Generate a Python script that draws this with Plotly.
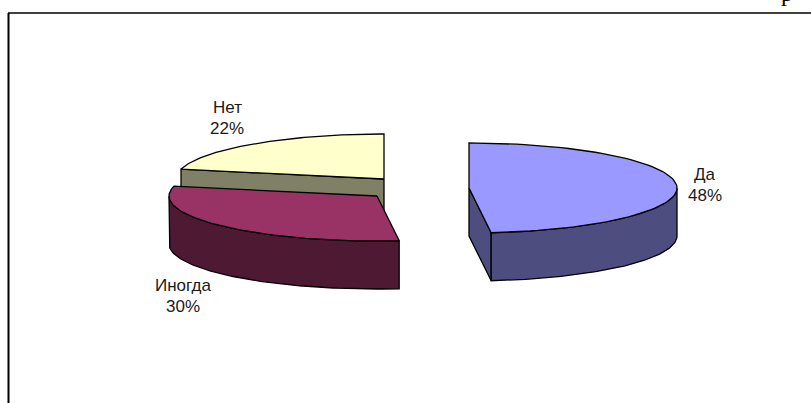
import numpy as np
import plotly.graph_objects as go

categories = ["Да", "Иногда", "Нет"]
values = [48.3, 30.2, 21.5]
top_colors = ["#9999ff", "#993366", "#ffffcc"]
side_colors = ["#4d4d80", "#4d1933", "#808066"]

W, H = 811, 403
A, B, DEPTH = 208, 45, 48
CENTERS = {"Да": (469, 188), "Иногда": (377, 196), "Нет": (384, 179)}
LABELS = {"Да": (705, 174), "Иногда": (183, 285), "Нет": (227, 107)}
FONT = dict(family="Liberation Sans", size=17, color="#1a1a1a")

total = sum(values)
starts = np.cumsum([0] + values[:-1]) / total * 2 * np.pi
ends = np.cumsum(values) / total * 2 * np.pi
span = {c: (s, e) for c, s, e in zip(categories, starts, ends)}
top_c = dict(zip(categories, top_colors))
side_c = dict(zip(categories, side_colors))


def arc(c, t0, t1, dy=0):
    cx, cy = CENTERS[c]
    t = np.linspace(t0, t1, 80)
    return cx + A * np.sin(t), cy - B * np.cos(t) + dy


fig = go.Figure()


def poly(xs, ys, color):
    fig.add_trace(go.Scatter(
        x=list(xs) + [xs[0]], y=list(ys) + [ys[0]], mode="lines", fill="toself",
        fillcolor=color, line=dict(color="black", width=1.3), hoverinfo="skip",
        showlegend=False))


def top(c):
    x, y = arc(c, *span[c])
    cx, cy = CENTERS[c]
    poly(np.r_[cx, x], np.r_[cy, y], top_c[c])


def wall(c, t0, t1):
    x, y = arc(c, t0, t1)
    x2, y2 = arc(c, t1, t0, DEPTH)
    poly(np.r_[x, x2], np.r_[y, y2], side_c[c])


def cut(c, t):
    cx, cy = CENTERS[c]
    x, y = arc(c, t, t)
    x, y = x[0], y[0]
    poly([cx, x, x, cx], [cy, y, y + DEPTH, cy + DEPTH], side_c[c])


# back to front: Нет, Иногда, Да; only the front half of each rim is visible
cut("Нет", span["Нет"][0])
top("Нет")
wall("Иногда", span["Иногда"][0], 3 * np.pi / 2)
top("Иногда")
cut("Да", span["Да"][1])
wall("Да", np.pi / 2, span["Да"][1])
top("Да")

annotations = []
for c, v in zip(categories, values):
    lx, ly = LABELS[c]
    for text, yy in ((c, ly), (f"{v:.0f}%", ly + 21)):
        annotations.append(dict(x=lx, y=yy, text=text, xref="x", yref="y", showarrow=False,
                                xanchor="center", yanchor="middle", font=FONT))
annotations.append(dict(x=787, y=1.0, xref="x", yref="paper", text="р", showarrow=False,
                        xanchor="center", yanchor="middle", yshift=7,
                        font=dict(family="Liberation Serif", size=24, color="black")))

fig.update_layout(
    width=W, height=H, margin=dict(l=0, r=0, t=0, b=0),
    paper_bgcolor="white", plot_bgcolor="white",
    xaxis=dict(range=[0, W], visible=False, fixedrange=True),
    yaxis=dict(range=[H, 0], visible=False, fixedrange=True),
    annotations=annotations,
    shapes=[
        dict(type="line", x0=8.5, x1=8.5, y0=13, y1=H, line=dict(color="black", width=2)),
        dict(type="line", x0=8, x1=W, y0=13, y1=13, line=dict(color="black", width=1.5)),
    ],
)
fig.write_html(
    "out.html", config=dict(displayModeBar=False),
    post_script="document.body.style.margin='0';document.body.style.overflow='hidden';",
)
